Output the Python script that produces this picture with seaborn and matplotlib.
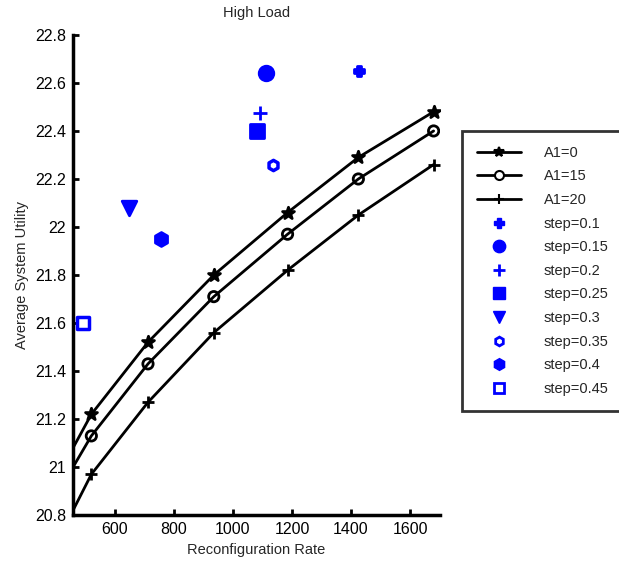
import matplotlib
matplotlib.use("Agg")
import matplotlib.pyplot as plt
from matplotlib.lines import Line2D
import seaborn as sns
import pandas as pd

# ---- data ----
rate = [458, 520, 712, 935, 1185, 1425, 1680]
a1_0 = [21.08, 21.22, 21.52, 21.80, 22.06, 22.29, 22.48]
a1_15 = [21.00, 21.13, 21.43, 21.71, 21.97, 22.20, 22.40]
a1_20 = [20.82, 20.97, 21.27, 21.56, 21.82, 22.05, 22.26]
line_labels = ["A1=0", "A1=15", "A1=20"]

step_labels = ["step=0.1", "step=0.15", "step=0.2", "step=0.25",
               "step=0.3", "step=0.35", "step=0.4", "step=0.45"]
step_x = [1427, 1112, 1092, 1082, 648, 1136, 756, 492]
step_y = [22.65, 22.64, 22.475, 22.40, 22.08, 22.26, 21.95, 21.60]

xticks = [600, 800, 1000, 1200, 1400, 1600]
yticks = [20.8, 21.0, 21.2, 21.4, 21.6, 21.8, 22.0, 22.2, 22.4, 22.6, 22.8]
ytick_labels = ["20.8", "21", "21.2", "21.4", "21.6", "21.8", "22", "22.2", "22.4", "22.6", "22.8"]

# ---- style ----
sns.set_theme(style="ticks")
plt.rcParams["font.family"] = ["Liberation Sans", "DejaVu Sans"]

fig = plt.figure(figsize=(6.19, 5.63), dpi=100)
ax = fig.add_axes([0.118, 0.085, 0.593, 0.853])

line_markers = ["*", "o", "+"]
line_sets = [a1_0, a1_15, a1_20]
handles = []
for vals, mk, lab in zip(line_sets, line_markers, line_labels):
    df = pd.DataFrame({"x": rate, "y": vals})
    sns.lineplot(data=df, x="x", y="y", ax=ax, color="black", linewidth=2,
                 estimator=None, sort=False, legend=False)
    sns.scatterplot(data=df.iloc[1:], x="x", y="y", ax=ax, marker=mk,
                    s=80 if mk != "o" else 55,
                    color="black" if mk != "o" else "none",
                    edgecolor="black", linewidth=2, legend=False, zorder=4)
    handles.append(Line2D([], [], color="black", lw=2, marker=mk,
                          markersize=7 if mk != "o" else 6.5,
                          markerfacecolor="black" if mk != "o" else "white",
                          markeredgecolor="black", markeredgewidth=1.5, label=lab))

blue = "#0000ff"
step_markers = ["P", "o", "+", "s", "v", "h", "h", "s"]
step_filled = [True, True, True, True, True, False, True, False]
step_sizes = [60, 110, 110, 90, 110, 55, 100, 80]
for xv, yv, mk, filled, sz, lab in zip(step_x, step_y, step_markers, step_filled, step_sizes, step_labels):
    sdf = pd.DataFrame({"x": [xv], "y": [yv]})
    if filled:
        sns.scatterplot(data=sdf, x="x", y="y", ax=ax, marker=mk, s=sz,
                        color=blue, edgecolor=blue, linewidth=2, legend=False, zorder=5)
        handles.append(Line2D([], [], lw=0, marker=mk, markersize=sz ** 0.5 * 0.85,
                              color=blue, markerfacecolor=blue, markeredgecolor=blue,
                              markeredgewidth=2 if mk == "+" else 1, label=lab))
    else:
        sns.scatterplot(data=sdf, x="x", y="y", ax=ax, marker=mk, s=sz,
                        facecolor="white", edgecolor=blue, linewidth=2.5, legend=False, zorder=5)
        handles.append(Line2D([], [], lw=0, marker=mk, markersize=sz ** 0.5 * 0.85,
                              markerfacecolor="white", markeredgecolor=blue,
                              markeredgewidth=2, label=lab))

ax.set_xlim(458, 1702)
ax.set_ylim(20.8, 22.8)
ax.set_xticks(xticks)
ax.set_xticklabels([str(t) for t in xticks])
ax.set_yticks(yticks)
ax.set_yticklabels(ytick_labels)
ax.tick_params(direction="in", length=4, width=2, labelsize=11.5, colors="black", pad=5)
for s in ["top", "right"]:
    ax.spines[s].set_visible(False)
for s in ["left", "bottom"]:
    ax.spines[s].set_linewidth(2.5)
    ax.spines[s].set_color("black")

ax.set_xlabel("Reconfiguration Rate", fontsize=10.5, labelpad=4)
ax.set_ylabel("Average System Utility", fontsize=10.5, labelpad=4)
ax.set_title("High Load", fontsize=10.5, pad=13)

leg = fig.legend(handles=handles, loc="upper left", bbox_to_anchor=(0.735, 0.78),
                 frameon=True, fancybox=False, fontsize=10.5, handlelength=3.0,
                 labelspacing=0.66, borderpad=1.0, handletextpad=1.6)
leg.get_frame().set_edgecolor("black")
leg.get_frame().set_linewidth(2)

fig.savefig("out.png", dpi=100)
